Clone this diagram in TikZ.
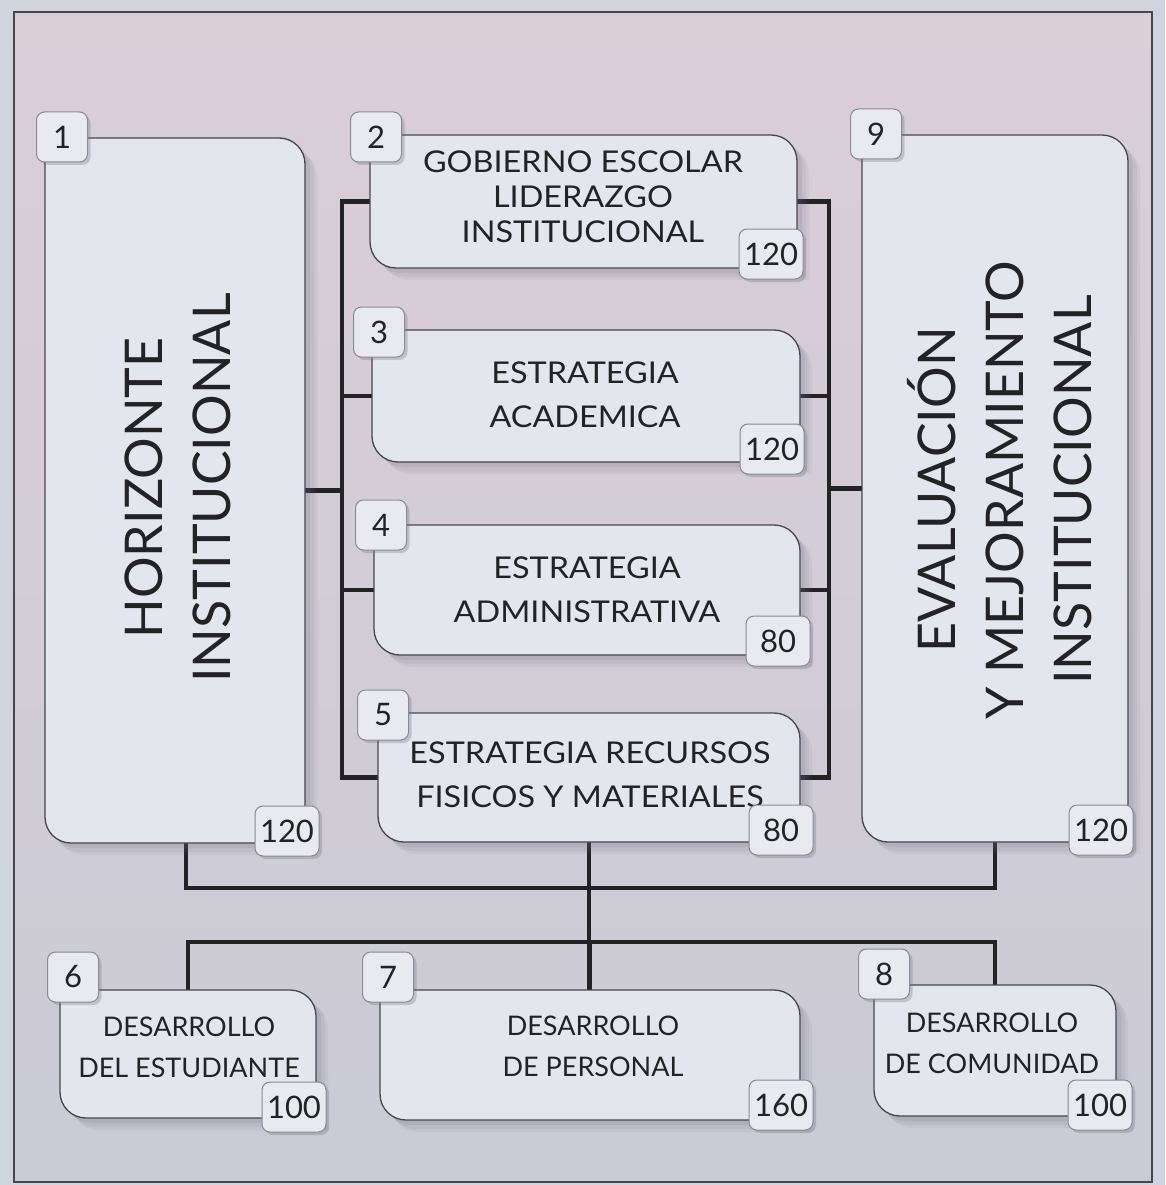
\documentclass[tikz,border=0pt]{standalone}
\usepackage{fontspec}
\newfontfamily\myfam{Lato}
\newfontfamily\myfamw[FakeStretch=1.08]{Lato}
\usetikzlibrary{shadows}
\definecolor{outc}{RGB}{208,212,220}
\definecolor{bgtop}{RGB}{218,206,215}
\definecolor{bgbot}{RGB}{202,203,213}
\definecolor{boxfill}{RGB}{228,230,237}
\definecolor{edgec}{RGB}{70,70,76}
\definecolor{linec}{RGB}{35,35,38}
\definecolor{tagfill}{RGB}{233,234,240}
\definecolor{tagedge}{RGB}{138,138,146}
\definecolor{shadowc}{RGB}{110,110,128}
\definecolor{txt}{RGB}{35,35,38}
\newcommand\rbpath[4]{(#1,#2) -- ({#3-26},#2) .. controls ({#3-11.6},#2) and (#3,{#2+11.6}) .. (#3,{#2+26}) -- (#3,#4) -- ({#1+26},#4) .. controls ({#1+11.6},#4) and (#1,{#4-11.6}) .. (#1,{#4-26}) -- cycle}
\newcommand\mkbox[5]{%
  \foreach \sh/\op in {12/0.08,9/0.10,5/0.14}{\fill[shadowc,fill opacity=\op,shift={(\sh,\sh)}] \rbpath{#2}{#3}{#4}{#5};}
  \path[boxline] \rbpath{#2}{#3}{#4}{#5};
  \node[inner sep=0pt, minimum width={(#4-#2)*1pt}, minimum height={(#5-#3)*1pt}] (#1) at ({(#2+#4)/2},{(#3+#5)/2}) {};
}
\pgfdeclarelayer{back}
\pgfdeclarelayer{lines}
\pgfsetlayers{back,lines,main}
\tikzset{
  conn/.style={draw=linec, line width=4.2pt, line cap=rect},
  boxline/.style={fill=boxfill, draw=edgec, line width=1.3pt},
  tag/.style={rectangle, rounded corners=8pt, fill=tagfill, draw=tagedge, line width=1pt,
    minimum height=50pt, minimum width=51pt, inner sep=0pt, text=txt,
    font=\myfam\fontsize{31}{31}\selectfont,
    drop shadow={shadow xshift=3pt, shadow yshift=-3pt, opacity=0.3, fill=shadowc}},
  wtag/.style={tag, minimum width=64pt},
  btxt/.style={align=center, text=txt, inner sep=0pt, font=\myfamw\fontsize{30}{35}\selectfont},
  btxtw/.style={btxt, font=\myfamw\fontsize{30}{44}\selectfont},
  bottxt/.style={btxt, font=\myfam\fontsize{27}{41}\selectfont},
  bigtxt/.style={btxt, rotate=90, font=\myfam\fontsize{52}{68}\selectfont},
}
\begin{document}
\begin{tikzpicture}[x=1pt,y=-1pt]
\useasboundingbox (0,0) rectangle (1165,1185);
\begin{pgfonlayer}{back}
  \fill[outc] (0,0) rectangle (1165,1185);
  \fill[top color=bgtop, bottom color=bgbot] (14,12) rectangle (1152,1182);
  \draw[edgec, line width=1.8pt] (14,12) rectangle (1152,1182);
\end{pgfonlayer}

% boxes
\mkbox{b1}{45}{138}{305}{843}
\mkbox{b2}{370}{135}{797}{268}
\mkbox{b3}{372}{330}{800}{462}
\mkbox{b4}{374}{525}{800}{655}
\mkbox{b5}{378}{713}{800}{842}
\mkbox{b9}{862}{135}{1128}{842}
\mkbox{b6}{60}{990}{316}{1118}
\mkbox{b7}{380}{990}{800}{1120}
\mkbox{b8}{874}{985}{1116}{1116}

% texts
\node[bigtxt] (x1) at (178,488) {HORIZONTE\\INSTITUCIONAL};
\node[bigtxt] (x9) at (1000,490) {EVALUACIÓN\\Y MEJORAMIENTO\\INSTITUCIONAL};
\node[btxt] (x2) at (583,197) {GOBIERNO ESCOLAR\\LIDERAZGO\\INSTITUCIONAL};
\node[btxtw] (x3) at (585,395) {ESTRATEGIA\\ACADEMICA};
\node[btxtw] (x4) at (587,590) {ESTRATEGIA\\ADMINISTRATIVA};
\node[btxtw] (x5) at (590,775) {ESTRATEGIA RECURSOS\\FISICOS Y MATERIALES};
\node[bottxt] (x6) at (189,1047) {DESARROLLO\\DEL ESTUDIANTE};
\node[bottxt] (x7) at (593,1046) {DESARROLLO\\DE PERSONAL};
\node[bottxt] (x8) at (992,1043) {DESARROLLO\\DE COMUNIDAD};

% number tags
\node[tag] (t1) at (62,137) {1};
\node[tag] (t2) at (376,137) {2};
\node[tag] (t3) at (379,332) {3};
\node[tag] (t4) at (381,525) {4};
\node[tag] (t5) at (383,715) {5};
\node[tag] (t9) at (876,134) {9};
\node[tag] (t6) at (73,977) {6};
\node[tag] (t7) at (388,977) {7};
\node[tag] (t8) at (884,974) {8};
\node[wtag] (n1) at (287,831) {120};
\node[wtag] (n2) at (771,254) {120};
\node[wtag] (n3) at (772,449) {120};
\node[wtag] (n4) at (778,641) {80};
\node[wtag] (n5) at (781,830) {80};
\node[wtag] (n9) at (1101,830) {120};
\node[wtag] (n6) at (294,1107) {100};
\node[wtag] (n7) at (781,1105) {160};
\node[wtag] (n8) at (1100,1105) {100};

% connectors
\coordinate (lbus) at (342,0);
\coordinate (rbus) at (829,0);
\coordinate (j1) at (186,888);
\coordinate (j9) at (995,888);
\coordinate (hb) at (0,942);
\begin{pgfonlayer}{lines}
  \draw[conn] (b2.west -| lbus) -- (b5.west -| lbus);
  \draw[conn] (b1.east) -- (b1.east -| lbus);
  \foreach \b in {b2,b3,b4,b5} {\draw[conn] (\b.west) -- (\b.west -| lbus);}
  \draw[conn] (b2.east -| rbus) -- (b5.east -| rbus);
  \draw[conn] (b9.west) -- (b9.west -| rbus);
  \foreach \b in {b2,b3,b4,b5} {\draw[conn] (\b.east) -- (\b.east -| rbus);}
  \draw[conn] (j1 |- b1.south) -- (j1) -- (j9) -- (j9 |- b9.south);
  \draw[conn] (b6.north |- hb) -- (b8.north |- hb);
  \foreach \b in {b6,b7,b8} {\draw[conn] (\b.north) -- (\b.north |- hb);}
  \draw[conn] (b5.south) -- (b5.south |- b7.north);
\end{pgfonlayer}
\end{tikzpicture}
\end{document}
